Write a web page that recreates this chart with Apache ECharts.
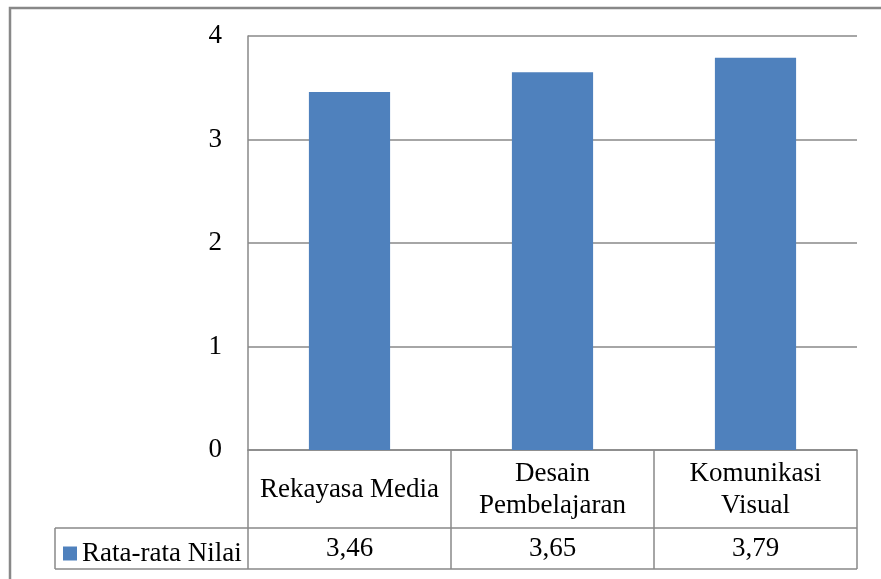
<!DOCTYPE html>
<html>
<head>
<meta charset="utf-8">
<script src="https://cdn.jsdelivr.net/npm/echarts@6/dist/echarts.min.js"></script>
<style>
  html, body { margin: 0; padding: 0; background: #fff; }
  #chart { width: 881px; height: 579px; }
</style>
</head>
<body>
<div id="chart"></div>
<script>
// Average scores per field
const categories = ['Rekayasa Media', 'Desain\nPembelajaran', 'Komunikasi\nVisual'];
const seriesName = 'Rata-rata Nilai';
const values = [3.46, 3.65, 3.79];
const yTicks = [0, 1, 2, 3, 4];

// Layout of plot area and data table underneath
const W = 881, H = 579;
const G = { left: 248, right: 24, top: 36, bottom: 129 };
const plotRight = W - G.right;
const zeroY = H - G.bottom;
const row1Bottom = 528;
const tableBottom = 569;
const legendCellLeft = 55;
const lineColor = '#888888';
const font = '"Liberation Serif", "Times New Roman", serif';
const fontSize = 27;

const fmt = v => v.toFixed(2).replace('.', ',');

const chart = echarts.init(document.getElementById('chart'), null, { renderer: 'canvas' });

// Table rules
const lines = [];
const colW = (plotRight - G.left) / categories.length;
function hLine(x1, x2, y) {
  lines.push({ type: 'line', silent: true, shape: { x1, y1: y, x2, y2: y },
    style: { stroke: lineColor, lineWidth: 1.5 } });
}
function vLine(x, y1, y2) {
  lines.push({ type: 'line', silent: true, shape: { x1: x, y1, x2: x, y2 },
    style: { stroke: lineColor, lineWidth: 1.5 } });
}
hLine(G.left, plotRight, row1Bottom);
hLine(legendCellLeft, G.left, row1Bottom);
hLine(legendCellLeft, plotRight, tableBottom);
vLine(legendCellLeft, row1Bottom, tableBottom);
for (let i = 0; i <= categories.length; i++) {
  vLine(G.left + i * colW, zeroY, tableBottom);
}
// outer chart frame
lines.push({ type: 'polyline', silent: true,
  shape: { points: [[10, H + 10], [10, 8], [W + 10, 8]] },
  style: { stroke: lineColor, lineWidth: 2.5, fill: null } });

chart.setOption({
  animation: false,
  backgroundColor: '#ffffff',
  grid: { left: G.left, right: G.right, top: G.top, bottom: G.bottom, containLabel: false },
  legend: {
    data: [seriesName],
    left: 58, top: 535,
    icon: 'rect', itemWidth: 14, itemHeight: 14, itemGap: 6,
    textStyle: { fontFamily: font, fontSize: fontSize, color: '#000', padding: [0, 0, 0, 0] }
  },
  xAxis: [
    {
      type: 'category',
      data: categories,
      axisLine: { show: true, lineStyle: { color: lineColor, width: 1.5 } },
      axisTick: { show: false },
      axisLabel: {
        interval: 0, margin: 40, verticalAlign: 'middle', lineHeight: 32,
        fontFamily: font, fontSize: fontSize, color: '#000'
      }
    },
    {
      type: 'category',
      position: 'bottom',
      data: values.map(fmt),
      axisLine: { show: false },
      axisTick: { show: false },
      axisLabel: {
        interval: 0, margin: 99, verticalAlign: 'middle',
        fontFamily: font, fontSize: fontSize, color: '#000'
      }
    }
  ],
  yAxis: {
    type: 'value',
    min: yTicks[0], max: yTicks[yTicks.length - 1], interval: 1,
    axisLine: { show: true, lineStyle: { color: lineColor, width: 1.5 } },
    axisTick: { show: false },
    splitLine: { show: true, lineStyle: { color: lineColor, width: 1.5 } },
    axisLabel: { margin: 26, fontFamily: font, fontSize: fontSize, color: '#000' }
  },
  series: [{
    name: seriesName,
    type: 'bar',
    data: values,
    barWidth: '40%',
    itemStyle: { color: '#4F81BD' }
  }],
  graphic: lines
});
</script>
</body>
</html>
